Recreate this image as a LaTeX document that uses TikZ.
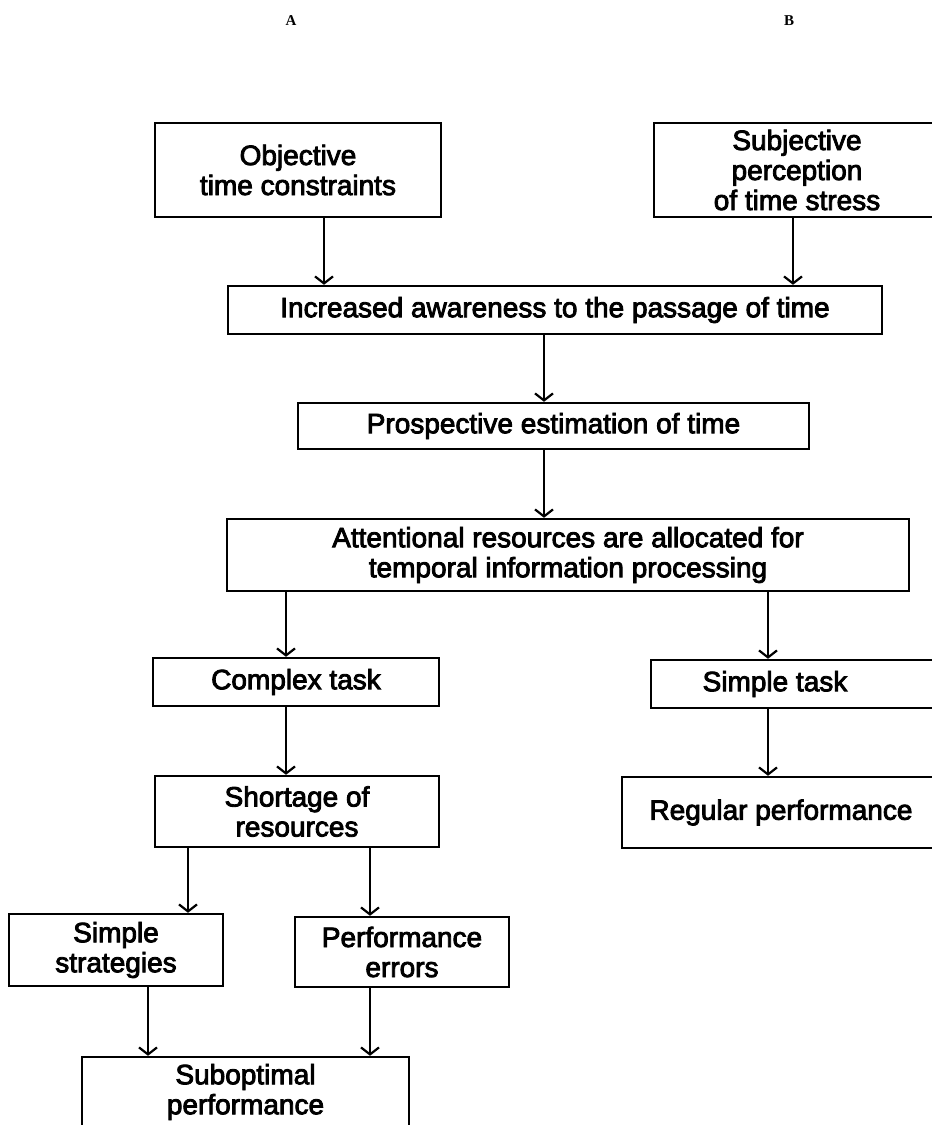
\documentclass[tikz,border=0pt]{standalone}
\usepackage{fontspec}
\setmainfont{Liberation Sans}[UprightFeatures={FakeBold=3}]
\newfontfamily\tagfont{Liberation Serif}
\usetikzlibrary{arrows.meta, positioning}

\begin{document}
\begin{tikzpicture}[
    x=1pt, y=-1pt,
    box/.style={draw, rectangle, line width=2.4pt, inner sep=0pt, align=center, font=\fontsize{28}{30}\selectfont},
    arrow/.style={-{Straight Barb[length=7pt, width=18pt]}, line width=2.2pt},
    tag/.style={font=\tagfont\bfseries\fontsize{15}{17}\selectfont}
]
\useasboundingbox (0,0) rectangle (932,1125);
\node[tag] (tagA) at (291,21) {A};
\node[tag] (tagB) at (789,21) {B};
\node[box, minimum width=286pt, minimum height=94pt] (objective) at (298,170) {Objective\\time constraints};
\node[box, minimum width=286pt, minimum height=94pt] (subjective) at (797,170) {Subjective\\perception\\of time stress};
\node[box, minimum width=654pt, minimum height=48pt] (awareness) at (555,310) {Increased awareness to the passage of time};
\node[box, minimum width=511pt, minimum height=46pt] (prospective) at (553.5,426) {Prospective estimation of time};
\node[box, minimum width=682pt, minimum height=72pt] (attention) at (568,555) {Attentional resources are allocated for\\temporal information processing};
\node[box, minimum width=286pt, minimum height=48pt] (complex) at (296,682) {Complex task};
\node[box, minimum width=294pt, minimum height=48pt] (simple) at (798,684) {Simple task\hspace*{46pt}};
\node[box, minimum width=284pt, minimum height=71pt] (shortage) at (297,811.5) {Shortage of\\resources};
\node[box, minimum width=318pt, minimum height=71pt] (regular) at (781,812.5) {Regular performance};
\node[box, minimum width=214pt, minimum height=72pt] (strategies) at (116,950) {Simple\\strategies};
\node[box, minimum width=214pt, minimum height=70pt] (errors) at (402,952) {Performance\\errors};
\node[box, minimum width=327pt, minimum height=70pt] (suboptimal) at (245.5,1092) {Suboptimal\\performance};
\coordinate (colObj) at (324,0);
\coordinate (colSubj) at (793,0);
\coordinate (colMid) at (544,0);
\coordinate (colLeft) at (286,0);
\coordinate (colRight) at (768,0);
\coordinate (colStrat) at (188,0);
\coordinate (colErr) at (370,0);
\coordinate (colSub) at (148,0);
\draw[arrow] (objective.south -| colObj) -- (awareness.north -| colObj);
\draw[arrow] (subjective.south -| colSubj) -- (awareness.north -| colSubj);
\draw[arrow] (awareness.south -| colMid) -- (prospective.north -| colMid);
\draw[arrow] (prospective.south -| colMid) -- (attention.north -| colMid);
\draw[arrow] (attention.south -| colLeft) -- (complex.north -| colLeft);
\draw[arrow] (attention.south -| colRight) -- (simple.north -| colRight);
\draw[arrow] (complex.south -| colLeft) -- (shortage.north -| colLeft);
\draw[arrow] (simple.south -| colRight) -- (regular.north -| colRight);
\draw[arrow] (shortage.south -| colStrat) -- (strategies.north -| colStrat);
\draw[arrow] (shortage.south -| colErr) -- (errors.north -| colErr);
\draw[arrow] (strategies.south -| colSub) -- (suboptimal.north -| colSub);
\draw[arrow] (errors.south -| colErr) -- (suboptimal.north -| colErr);
\end{tikzpicture}
\end{document}
